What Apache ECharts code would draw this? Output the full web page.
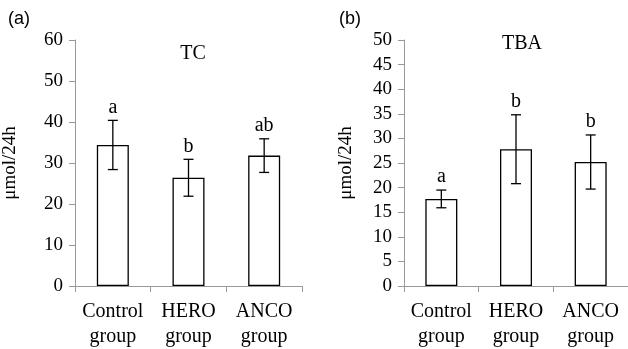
<!DOCTYPE html>
<html>
<head>
<meta charset="utf-8">
<script src="https://cdn.jsdelivr.net/npm/echarts@6/dist/echarts.min.js"></script>
<style>
html, body { margin: 0; padding: 0; background: #fff; }
#main { width: 628px; height: 349px; }
</style>
</head>
<body>
<div id="main"></div>
<script>
var groups = ['Control\ngroup', 'HERO\ngroup', 'ANCO\ngroup'];

// TC panel
var tcMean = [34.4, 26.4, 31.8];
var tcErr = [6.0, 4.5, 4.1];
var tcLetters = ['a', 'b', 'ab'];

// TBA panel
var tbaMean = [17.7, 27.8, 25.2];
var tbaErr = [1.8, 7.0, 5.5];
var tbaLetters = ['a', 'b', 'b'];

var serif = 'Liberation Serif';

function errData(mean, err, letters) {
    return mean.map(function (m, i) {
        return [i, m - err[i], m + err[i], letters[i]];
    });
}

function errRender(params, api) {
    var x = api.value(0);
    var lo = api.coord([x, api.value(1)]);
    var hi = api.coord([x, api.value(2)]);
    var cap = 5;
    var style = { stroke: '#000', lineWidth: 1.3 };
    return {
        type: 'group',
        children: [
            { type: 'line', shape: { x1: lo[0], y1: lo[1], x2: hi[0], y2: hi[1] }, style: style },
            { type: 'line', shape: { x1: lo[0] - cap, y1: lo[1], x2: lo[0] + cap, y2: lo[1] }, style: style },
            { type: 'line', shape: { x1: hi[0] - cap, y1: hi[1], x2: hi[0] + cap, y2: hi[1] }, style: style },
            {
                type: 'text',
                x: hi[0], y: hi[1] - 3,
                style: {
                    text: api.value(3), fill: '#000', font: '20px "' + serif + '"',
                    align: 'center', verticalAlign: 'bottom'
                }
            }
        ]
    };
}

function xAxis(idx) {
    return {
        type: 'category',
        gridIndex: idx,
        data: groups,
        axisLine: { lineStyle: { color: '#999' } },
        axisTick: { show: true, length: 6, lineStyle: { color: '#999' } },
        axisLabel: { color: '#000', fontFamily: serif, fontSize: 20, lineHeight: 25, margin: 13, interval: 0 }
    };
}

function yAxis(idx, max, interval) {
    return {
        type: 'value',
        gridIndex: idx,
        min: 0,
        max: max,
        interval: interval,
        name: 'μmol/24h',
        nameLocation: 'middle',
        nameRotate: 90,
        nameGap: idx === 0 ? 55 : 48,
        nameTextStyle: { color: '#000', fontFamily: serif, fontSize: 19 },
        axisLine: { show: true, lineStyle: { color: '#999' } },
        axisTick: { show: true, length: 6, lineStyle: { color: '#999' } },
        axisLabel: { color: '#000', fontFamily: serif, fontSize: 19, margin: 12 },
        splitLine: { show: false }
    };
}

var chart = echarts.init(document.getElementById('main'));
var option = {
    animation: false,
    backgroundColor: '#fff',
    title: [
        { text: '(a)', left: 3, top: 5, textStyle: { fontFamily: 'Liberation Sans', fontSize: 18, fontWeight: 'normal', color: '#000' } },
        { text: '(b)', left: 334, top: 5, textStyle: { fontFamily: 'Liberation Sans', fontSize: 18, fontWeight: 'normal', color: '#000' } },
        { text: 'TC', left: 188, top: 39, textAlign: 'center', textStyle: { fontFamily: serif, fontSize: 20, fontWeight: 'normal', color: '#000' } },
        { text: 'TBA', left: 517, top: 29, textAlign: 'center', textStyle: { fontFamily: serif, fontSize: 20, fontWeight: 'normal', color: '#000' } }
    ],
    grid: [
        { left: 75, top: 40, width: 227, height: 247 },
        { left: 404, top: 40, width: 227, height: 247 }
    ],
    xAxis: [xAxis(0), xAxis(1)],
    yAxis: [yAxis(0, 60, 10), yAxis(1, 50, 5)],
    series: [
        {
            type: 'bar', xAxisIndex: 0, yAxisIndex: 0, data: tcMean, barWidth: 32,
            itemStyle: { color: '#fff', borderColor: '#000', borderWidth: 1.3 }
        },
        {
            type: 'custom', xAxisIndex: 0, yAxisIndex: 0, data: errData(tcMean, tcErr, tcLetters),
            renderItem: errRender, z: 10
        },
        {
            type: 'bar', xAxisIndex: 1, yAxisIndex: 1, data: tbaMean, barWidth: 32,
            itemStyle: { color: '#fff', borderColor: '#000', borderWidth: 1.3 }
        },
        {
            type: 'custom', xAxisIndex: 1, yAxisIndex: 1, data: errData(tbaMean, tbaErr, tbaLetters),
            renderItem: errRender, z: 10
        }
    ]
};
chart.setOption(option);
window.addEventListener('resize', function () {
    chart.resize();
});
</script>
</body>
</html>
